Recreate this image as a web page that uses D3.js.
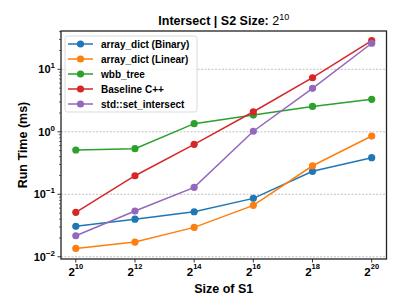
<!DOCTYPE html>
<html>
<head>
<meta charset="utf-8">
<script src="https://cdn.jsdelivr.net/npm/d3@7"></script>
<style>
  body { margin: 0; background: #fff; }
  text { font-family: "Liberation Sans", Arial, sans-serif; }
</style>
</head>
<body>
<script>
const exponents = [10, 12, 14, 16, 18, 20];
const seriesNames = ["array_dict (Binary)", "array_dict (Linear)", "wbb_tree", "Baseline C++", "std::set_intersect"];
const seriesColors = ["#1f77b4", "#ff7f0e", "#2ca02c", "#d62728", "#9467bd"];
const binary = [0.0307, 0.040, 0.0525, 0.086, 0.233, 0.385];
const linear = [0.0136, 0.0172, 0.0295, 0.0665, 0.286, 0.855];
const wbbTree = [0.511, 0.536, 1.35, 1.85, 2.55, 3.31];
const baseline = [0.0514, 0.198, 0.63, 2.09, 7.33, 28.7];
const setIntersect = [0.0217, 0.054, 0.129, 1.02, 4.96, 26.1];
const yTickExps = [-2, -1, 0, 1];

const width = 407, height = 305;
const margin = {top: 31, right: 20.5, bottom: 46, left: 61};

const svg = d3.select("body").append("svg")
    .attr("width", width)
    .attr("height", height);

const x = d3.scaleLinear()
    .domain([9.5, 20.5])
    .range([margin.left, width - margin.right]);

const y = d3.scaleLog()
    .domain([Math.pow(10, -2.036), Math.pow(10, 1.613)])
    .range([height - margin.bottom, margin.top]);

const series = [binary, linear, wbbTree, baseline, setIntersect].map((vals, i) => ({
  name: seriesNames[i],
  color: seriesColors[i],
  values: vals.map((v, j) => ({e: exponents[j], v}))
}));

// grid
svg.append("g")
  .selectAll("line")
  .data(yTickExps)
  .join("line")
    .attr("x1", margin.left)
    .attr("x2", width - margin.right)
    .attr("y1", d => y(Math.pow(10, d)))
    .attr("y2", d => y(Math.pow(10, d)))
    .attr("stroke", "#b0b0b0")
    .attr("stroke-width", 0.8)
    .attr("stroke-dasharray", "2,1.5");

// y axis
const minorTicks = [];
for (let e = -3; e <= 1; e++) {
  for (let m = 2; m <= 9; m++) minorTicks.push(m * Math.pow(10, e));
}
const yDom = y.domain();
const yAxis = svg.append("g")
    .attr("transform", `translate(${margin.left},0)`);
yAxis.selectAll("line.minor")
  .data(minorTicks.filter(v => v >= yDom[0] && v <= yDom[1]))
  .join("line")
    .attr("class", "minor")
    .attr("x1", -2).attr("x2", 0)
    .attr("y1", d => y(d)).attr("y2", d => y(d))
    .attr("stroke", "#000").attr("stroke-width", 0.6);
const yMajor = yAxis.selectAll("g.major")
  .data(yTickExps)
  .join("g")
    .attr("class", "major")
    .attr("transform", d => `translate(0,${y(Math.pow(10, d))})`);
yMajor.append("line")
    .attr("x1", -3.5).attr("x2", 0)
    .attr("stroke", "#000").attr("stroke-width", 0.8);
const yLab = yMajor.append("text")
    .attr("x", -6)
    .attr("y", 4)
    .attr("text-anchor", "end")
    .attr("font-size", 11)
    .attr("font-weight", "bold");
yLab.append("tspan").text("10");
yLab.append("tspan")
    .attr("dy", -5)
    .attr("font-size", 8)
    .text(d => d < 0 ? "\u2212" + Math.abs(d) : d);

// x axis
const xAxis = svg.append("g")
    .attr("transform", `translate(0,${height - margin.bottom})`);
const xMajor = xAxis.selectAll("g")
  .data(exponents)
  .join("g")
    .attr("transform", d => `translate(${x(d)},0)`);
xMajor.append("line")
    .attr("y1", 0).attr("y2", 3.5)
    .attr("stroke", "#000").attr("stroke-width", 0.8);
const xLab = xMajor.append("text")
    .attr("y", 16.5)
    .attr("text-anchor", "middle")
    .attr("font-size", 11.5)
    .attr("font-weight", "bold");
xLab.append("tspan").text("2");
xLab.append("tspan")
    .attr("dy", -7)
    .attr("font-size", 7.5)
    .text(d => d);

// lines
const line = d3.line()
    .x(d => x(d.e))
    .y(d => y(d.v));

const sg = svg.append("g")
  .selectAll("g")
  .data(series)
  .join("g");
sg.append("path")
    .attr("fill", "none")
    .attr("stroke", d => d.color)
    .attr("stroke-width", 1.5)
    .attr("d", d => line(d.values));
sg.selectAll("circle")
  .data(d => d.values.map(p => ({...p, color: d.color})))
  .join("circle")
    .attr("cx", d => x(d.e))
    .attr("cy", d => y(d.v))
    .attr("r", 3.6)
    .attr("fill", d => d.color);

// frame
svg.append("rect")
    .attr("x", margin.left)
    .attr("y", margin.top)
    .attr("width", width - margin.left - margin.right)
    .attr("height", height - margin.top - margin.bottom)
    .attr("fill", "none")
    .attr("stroke", "#222")
    .attr("stroke-width", 1.3);

// legend
const lg = svg.append("g")
    .attr("transform", "translate(65,36)");
lg.append("rect")
    .attr("width", 132)
    .attr("height", 76)
    .attr("rx", 2.5)
    .attr("fill", "#fff")
    .attr("fill-opacity", 0.8)
    .attr("stroke", "#d0d0d0")
    .attr("stroke-width", 0.8);
const items = lg.selectAll("g")
  .data(series)
  .join("g")
    .attr("transform", (d, i) => `translate(0,${8 + i * 15})`);
items.append("line")
    .attr("x1", 3).attr("x2", 28)
    .attr("stroke", d => d.color)
    .attr("stroke-width", 1.5);
items.append("circle")
    .attr("cx", 15.5)
    .attr("r", 3.6)
    .attr("fill", d => d.color);
items.append("text")
    .attr("x", 36)
    .attr("y", 3.6)
    .attr("font-size", 10)
    .attr("font-weight", "bold")
    .text(d => d.name);

// title and labels
const title = svg.append("text")
    .attr("x", (margin.left + width - margin.right) / 2)
    .attr("y", 25)
    .attr("text-anchor", "middle")
    .attr("font-size", 12.5)
    .attr("font-weight", "bold");
title.append("tspan").text("Intersect | S2 Size: ");
title.append("tspan").attr("font-weight", "normal").text("2");
title.append("tspan").attr("font-weight", "normal").attr("dy", -5).attr("font-size", 9).text("10");

svg.append("text")
    .attr("x", (margin.left + width - margin.right) / 2)
    .attr("y", 293)
    .attr("text-anchor", "middle")
    .attr("font-size", 12.5)
    .attr("font-weight", "bold")
    .text("Size of S1");

svg.append("text")
    .attr("transform", `translate(27,${(margin.top + height - margin.bottom) / 2}) rotate(-90)`)
    .attr("text-anchor", "middle")
    .attr("font-size", 12.5)
    .attr("font-weight", "bold")
    .text("Run Time (ms)");
</script>
</body>
</html>
